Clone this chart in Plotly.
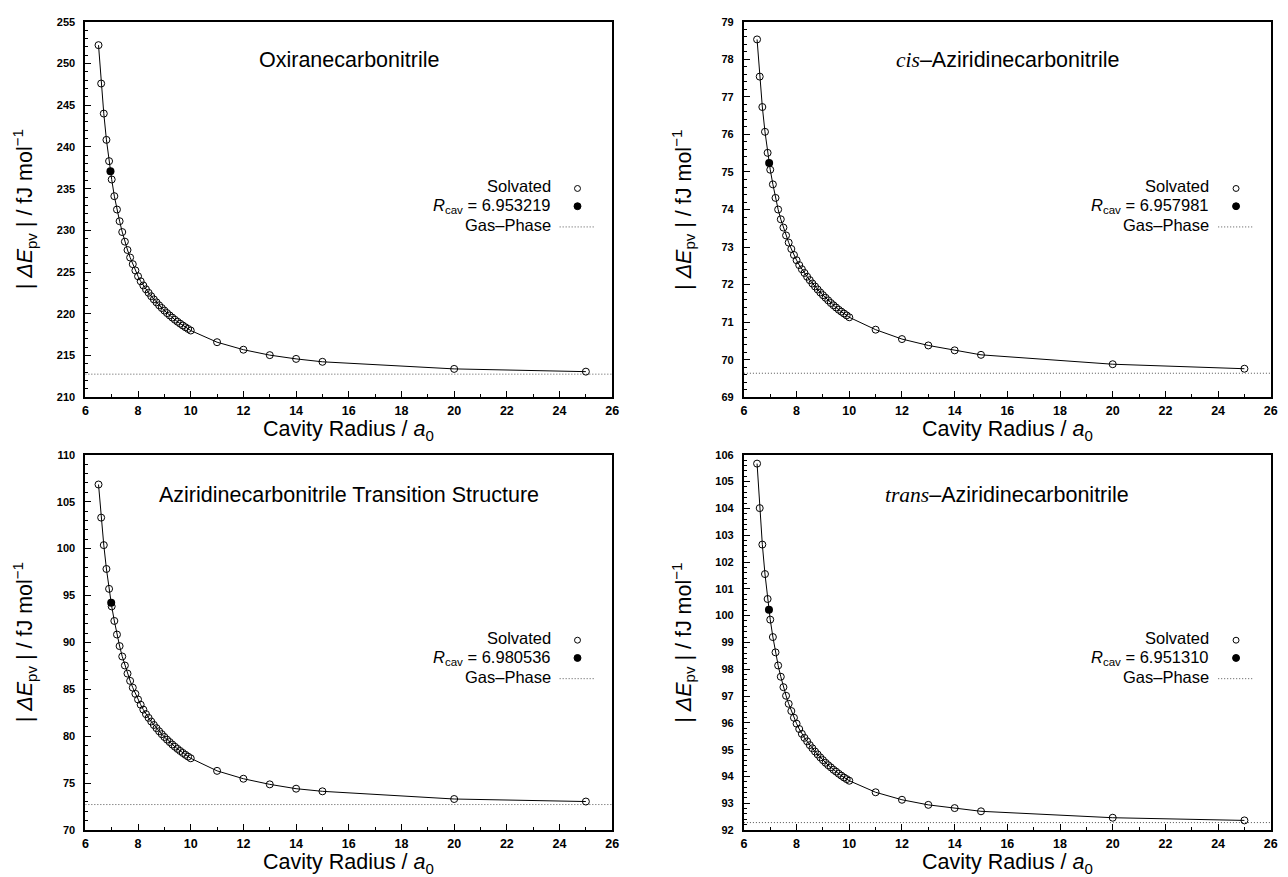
import plotly.graph_objects as go

# ---------------- data ----------------
radius = [6.5, 6.6, 6.7, 6.8, 6.9, 7.0, 7.1, 7.2, 7.3, 7.4, 7.5, 7.6, 7.7, 7.8, 7.9,
          8.0, 8.1, 8.2, 8.3, 8.4, 8.5, 8.6, 8.7, 8.8, 8.9, 9.0, 9.1, 9.2, 9.3, 9.4,
          9.5, 9.6, 9.7, 9.8, 9.9, 10.0, 11, 12, 13, 14, 15, 20, 25]

oxirane = [252.2, 247.6, 244.0, 240.85, 238.3, 236.1, 234.1, 232.5, 231.1, 229.8,
           228.65, 227.65, 226.75, 225.95, 225.2, 224.5, 223.9, 223.4, 222.94, 222.52,
           222.11, 221.73, 221.37, 221.02, 220.70, 220.39, 220.09, 219.81, 219.55, 219.29,
           219.05, 218.82, 218.60, 218.39, 218.19, 218.0, 216.6, 215.7, 215.05, 214.6,
           214.25, 213.4, 213.07]

cis_azir = [78.53, 77.54, 76.73, 76.07, 75.51, 75.06, 74.67, 74.31, 74.0, 73.74,
            73.52, 73.31, 73.12, 72.95, 72.79, 72.65, 72.52, 72.41, 72.31, 72.21,
            72.12, 72.03, 71.95, 71.87, 71.79, 71.72, 71.65, 71.58, 71.51, 71.45,
            71.39, 71.33, 71.28, 71.23, 71.18, 71.13, 70.80, 70.55, 70.38, 70.25,
            70.13, 69.88, 69.76]

ts_azir = [106.83, 103.30, 100.37, 97.83, 95.71, 93.84, 92.29, 90.84, 89.61, 88.50,
           87.54, 86.68, 85.90, 85.18, 84.52, 83.92, 83.36, 82.84, 82.36, 81.96,
           81.57, 81.20, 80.86, 80.53, 80.22, 79.92, 79.64, 79.38, 79.12, 78.88,
           78.65, 78.43, 78.22, 78.02, 77.83, 77.65, 76.31, 75.47, 74.87, 74.41,
           74.13, 73.31, 73.04]

trans_azir = [105.67, 104.01, 102.65, 101.55, 100.62, 99.85, 99.20, 98.63, 98.14, 97.72,
              97.33, 97.01, 96.71, 96.44, 96.19, 95.97, 95.77, 95.59, 95.44, 95.31,
              95.17, 95.05, 94.93, 94.82, 94.71, 94.61, 94.51, 94.42, 94.34, 94.25,
              94.18, 94.10, 94.03, 93.96, 93.90, 93.84, 93.41, 93.13, 92.94, 92.82,
              92.70, 92.46, 92.36]

rcav_x = [6.953219, 6.957981, 6.980536, 6.951310]
rcav_y = [237.1, 75.24, 94.23, 100.22]
rcav_labels = ["6.953219", "6.957981", "6.980536", "6.951310"]
gas_phase = [212.77, 69.64, 72.72, 92.28]

titles = ["Oxiranecarbonitrile",
          "<span style='font-family:Liberation Serif'><i>cis</i></span>\u2013Aziridinecarbonitrile",
          "Aziridinecarbonitrile Transition Structure",
          "<span style='font-family:Liberation Serif'><i>trans</i></span>\u2013Aziridinecarbonitrile"]
series = [oxirane, cis_azir, ts_azir, trans_azir]
x_range = [6, 26]
y_ranges = [[210, 255], [69, 79], [70, 110], [92, 106]]
y_dticks = [5, 1, 5, 1]
y_minor = [1, 0.2, 1, 0.2]

# ---------------- layout geometry (pixels) ----------------
W, H = 1288, 877
x_px = [(83, 614), (746.7, 1277.7), (83, 614), (746.7, 1277.7)]
y_px = [(16, 396.7), (16, 396.7), (455, 835.5), (455, 835.5)]
title_off = [39, 39, 41, 41]
legend_rows = [[167, 187, 206], [167, 187, 206], [186, 206, 225], [186, 206, 225]]

def px(x):
    return x / W

def py(y):
    return 1 - y / H

FONT = "Liberation Sans, Arial, Helvetica, sans-serif"
GAS_COLOR = "#555555"

fig = go.Figure()
layout = dict(width=W, height=H, margin=dict(l=0, r=0, t=0, b=0),
              paper_bgcolor="white", plot_bgcolor="white", showlegend=False,
              font=dict(family=FONT, color="black"))
annotations = []
shapes = []

for i in range(4):
    n = "" if i == 0 else str(i + 1)
    xa, ya = "x" + n, "y" + n
    fig.add_trace(go.Scatter(x=x_range, y=[gas_phase[i], gas_phase[i]], xaxis=xa, yaxis=ya,
                             mode="lines", line=dict(color=GAS_COLOR, width=1, dash="1px,2px"),
                             hoverinfo="skip"))
    fig.add_trace(go.Scatter(x=radius, y=series[i], xaxis=xa, yaxis=ya, mode="lines+markers",
                             line=dict(color="black", width=1),
                             marker=dict(symbol="circle-open", size=7, color="black",
                                         line=dict(width=1, color="black"))))
    fig.add_trace(go.Scatter(x=[rcav_x[i]], y=[rcav_y[i]], xaxis=xa, yaxis=ya, mode="markers",
                             marker=dict(symbol="circle", size=8, color="black")))

    x0, x1 = x_px[i]
    y0, y1 = y_px[i]
    common = dict(showline=True, linecolor="black", linewidth=2, mirror=True,
                  ticks="inside", ticklen=6, tickwidth=1, tickcolor="black",
                  showgrid=False, zeroline=False)
    layout["xaxis" + n] = dict(domain=[px(x0), px(x1)], anchor=ya, range=x_range,
                               dtick=2, tick0=0, ticklabelstandoff=1,
                               tickfont=dict(family=FONT, size=12.5, color="black", weight="bold"),
                               minor=dict(dtick=1, ticks="inside", ticklen=3, tickcolor="black"),
                               **common)
    layout["yaxis" + n] = dict(domain=[py(y1), py(y0)], anchor=xa, range=y_ranges[i],
                               dtick=y_dticks[i], tick0=0, ticklabelstandoff=6,
                               tickfont=dict(family=FONT, size=11, color="black", weight="bold"),
                               minor=dict(dtick=y_minor[i], ticks="inside", ticklen=3,
                                          tickcolor="black"),
                               **common)

    cx = (x0 + x1) / 2
    # panel title
    annotations.append(dict(x=px(cx), y=py(y0 + title_off[i]), xref="paper", yref="paper",
                            text=titles[i], showarrow=False, xanchor="center", yanchor="middle",
                            font=dict(family=FONT, size=21.5, color="black")))
    # axis titles
    annotations.append(dict(x=px(cx), y=py(y1 + 34), xref="paper", yref="paper",
                            text="Cavity Radius / <i>a</i><sub>0</sub>", showarrow=False,
                            xanchor="center", yanchor="middle", borderpad=0,
                            font=dict(family=FONT, size=21.5, color="black")))
    annotations.append(dict(x=px(x0 - 61), y=py((y0 + y1) / 2), xref="paper", yref="paper",
                            text="| <i>\u0394E</i><sub>pv</sub> | / fJ mol<sup>\u22121</sup>",
                            showarrow=False, textangle=-90, xanchor="center", yanchor="middle",
                            font=dict(family=FONT, size=21.5, color="black")))
    # custom legend
    rows = legend_rows[i]
    labels = ["Solvated", "<i>R</i><sub>cav</sub> = " + rcav_labels[i], "Gas\u2013Phase"]
    for r, lab in zip(rows, labels):
        annotations.append(dict(x=px(x1 - 61), y=py(y0 + r), xref="paper", yref="paper",
                                text=lab, showarrow=False, xanchor="right", yanchor="middle",
                                borderpad=0,
                                font=dict(family=FONT, size=16.5, color="black")))
    ccx = x1 - 35
    rr = 3
    r1 = rows[0] + 2
    r2 = rows[1]
    r3 = rows[2] + 2
    shapes.append(dict(type="circle", xref="paper", yref="paper",
                       x0=px(ccx - rr), x1=px(ccx + rr), y0=py(y0 + r1 + rr),
                       y1=py(y0 + r1 - rr), line=dict(color="black", width=1)))
    shapes.append(dict(type="circle", xref="paper", yref="paper",
                       x0=px(ccx - 3.5), x1=px(ccx + 3.5), y0=py(y0 + r2 + 3.5),
                       y1=py(y0 + r2 - 3.5), line=dict(color="black", width=1),
                       fillcolor="black"))
    shapes.append(dict(type="line", xref="paper", yref="paper",
                       x0=px(x1 - 53), x1=px(x1 - 18), y0=py(y0 + r3), y1=py(y0 + r3),
                       line=dict(color=GAS_COLOR, width=1, dash="1px,2px")))

layout["annotations"] = annotations
layout["shapes"] = shapes
fig.update_layout(**layout)

fig.write_html("out.html", config={"displayModeBar": False},
               post_script="document.body.style.margin='0';document.body.style.overflow='hidden';")
